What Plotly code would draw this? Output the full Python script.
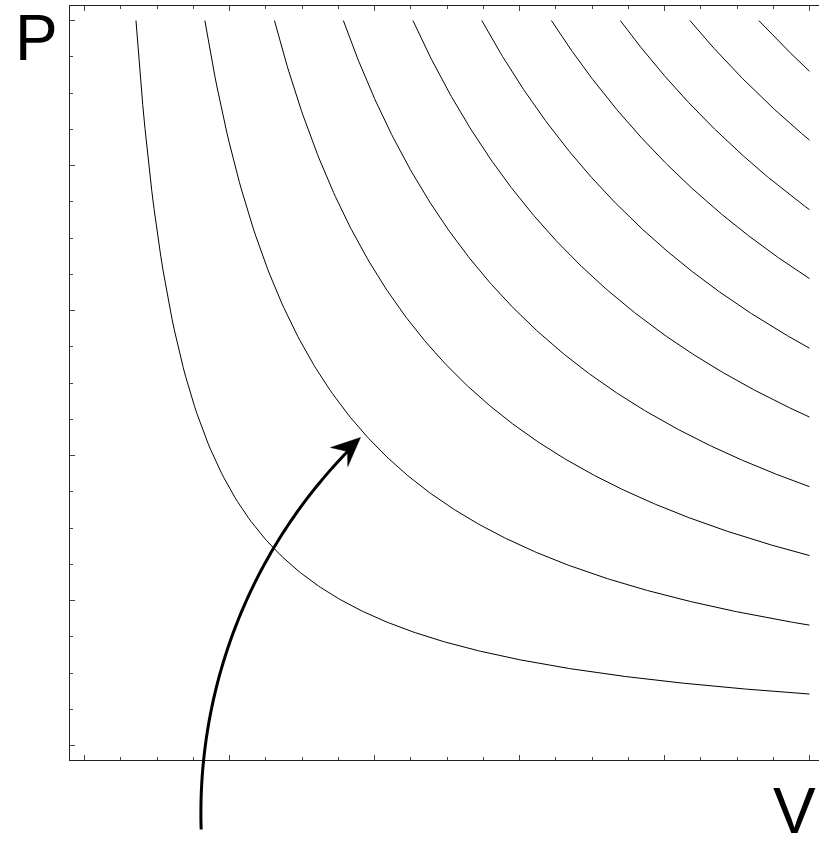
import numpy as np
import plotly.graph_objects as go

# ---- data (axis units: V and P both span 0..10) ----
isotherm_pv = [7.1, 16.6, 26.2, 35.7, 45.3, 54.8, 64.4, 73.9, 83.5, 93.0]  # P*V of each isotherm
v_limits = [0.0, 10.0]
p_limits = [0.0, 10.0]
major_step = 2.0
minor_step = 0.5

# curved arrow: three anchor points (start below the V axis, middle, end at arrowhead notch)
arrow_v = [1.609, 2.597, 3.628]
arrow_p = [-1.159, 2.703, 4.055]
head_v = [3.807, 3.393, 3.628, 3.632]   # tip, barb, notch, barb
head_p = [4.248, 4.110, 4.055, 3.848]

label_p = "P"
label_v = "V"

# ---- layout geometry ----
W, H = 819, 848
ml, mr, mt, mb = 70, 0, 6, 88
pw, ph = W - ml - mr, H - mt - mb
unit = 72.5                      # pixels per axis unit (same on both axes)
pad = 0.2
xr = [v_limits[0] - pad, v_limits[0] - pad + pw / unit]
yr = [p_limits[0] - pad, p_limits[1] + pad]


def to_paper(v, p):
    return (v - xr[0]) / (xr[1] - xr[0]), (p - yr[0]) / (yr[1] - yr[0])


fig = go.Figure()
for c in isotherm_pv:
    v = np.linspace(c / p_limits[1], v_limits[1], 300)
    fig.add_trace(go.Scatter(x=v, y=c / v, mode="lines",
                             line=dict(color="black", width=1),
                             hoverinfo="skip", showlegend=False))

# circular arc through the three arrow anchors (equal scale on both axes)
(ax_, ay_), (bx_, by_), (cx_, cy_) = zip(arrow_v, arrow_p)
d = 2 * (ax_ * (by_ - cy_) + bx_ * (cy_ - ay_) + cx_ * (ay_ - by_))
ux = ((ax_**2 + ay_**2) * (by_ - cy_) + (bx_**2 + by_**2) * (cy_ - ay_) + (cx_**2 + cy_**2) * (ay_ - by_)) / d
uy = ((ax_**2 + ay_**2) * (cx_ - bx_) + (bx_**2 + by_**2) * (ax_ - cx_) + (cx_**2 + cy_**2) * (bx_ - ax_)) / d
r = np.hypot(ax_ - ux, ay_ - uy)
t0 = np.arctan2(ay_ - uy, ax_ - ux)
t1 = np.arctan2(cy_ - uy, cx_ - ux)
if t0 < t1:
    t0 += 2 * np.pi
ts = np.linspace(t0, t1, 80)
pts = [to_paper(ux + r * np.cos(t), uy + r * np.sin(t)) for t in ts]
path = "M " + " L ".join("{:.5f},{:.5f}".format(*q) for q in pts)

shapes = [dict(type="path", xref="paper", yref="paper", path=path,
               line=dict(color="black", width=3))]
hp = [to_paper(a, b) for a, b in zip(head_v, head_p)]
hpath = "M " + " L ".join("{:.5f},{:.5f}".format(*q) for q in hp) + " Z"
shapes.append(dict(type="path", xref="paper", yref="paper", path=hpath,
                   fillcolor="black", line=dict(color="black", width=0.5)))

font = dict(family="Liberation Sans, Arial, sans-serif", size=64, color="black")
annotations = [
    dict(text=label_p, xref="paper", yref="paper",
         x=(36 - ml) / pw, y=(H - mb - 38) / ph,
         xanchor="center", yanchor="middle", showarrow=False, font=font),
    dict(text=label_v, xref="paper", yref="paper",
         x=(794 - ml) / pw, y=(H - mb - 848) / ph, borderpad=0,
         xanchor="center", yanchor="bottom", showarrow=False, font=font),
]

axis_common = dict(showgrid=False, zeroline=False, showticklabels=False,
                   showline=True, linecolor="#222", linewidth=1.3,
                   ticks="inside", ticklen=5, tickwidth=1, tickcolor="#444",
                   tick0=0, dtick=major_step,
                   minor=dict(tick0=0, dtick=minor_step, ticks="inside",
                              ticklen=3, tickwidth=1, tickcolor="#444",
                              showgrid=False))

fig.update_layout(
    width=W, height=H, margin=dict(l=ml, r=mr, t=mt, b=mb, pad=0),
    paper_bgcolor="white", plot_bgcolor="white",
    xaxis=dict(range=xr, mirror="ticks", **axis_common),
    yaxis=dict(range=yr, mirror=False, **axis_common),
    shapes=shapes, annotations=annotations, showlegend=False,
)

fig.write_html("out.html")
